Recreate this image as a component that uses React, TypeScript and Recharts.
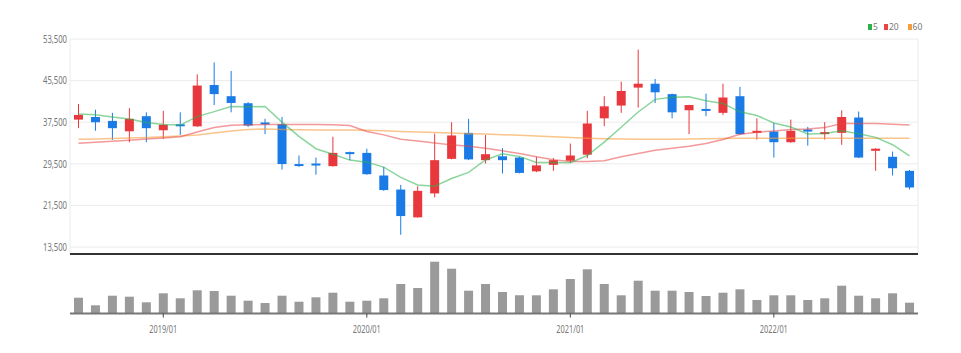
import { ComposedChart, Bar, Line, XAxis, YAxis, CartesianGrid } from 'recharts';

const dates = [
  '2018/08', '2018/09', '2018/10', '2018/11', '2018/12',
  '2019/01', '2019/02', '2019/03', '2019/04', '2019/05', '2019/06', '2019/07', '2019/08', '2019/09', '2019/10', '2019/11', '2019/12',
  '2020/01', '2020/02', '2020/03', '2020/04', '2020/05', '2020/06', '2020/07', '2020/08', '2020/09', '2020/10', '2020/11', '2020/12',
  '2021/01', '2021/02', '2021/03', '2021/04', '2021/05', '2021/06', '2021/07', '2021/08', '2021/09', '2021/10', '2021/11', '2021/12',
  '2022/01', '2022/02', '2022/03', '2022/04', '2022/05', '2022/06', '2022/07', '2022/08', '2022/09',
];

const opens = [
  38000, 38500, 37750, 35750, 38650, 35950, 37100, 36700, 44650, 42500,
  41150, 37450, 37100, 29450, 29550, 29050, 31750, 31600, 27250, 24550,
  19200, 23800, 30450, 35450, 30200, 30950, 30700, 28050, 29300, 30100,
  31250, 38250, 40700, 44150, 44900, 42900, 39800, 40050, 39300, 42500,
  35450, 35700, 33650, 36100, 35200, 35450, 38400, 32000, 30850, 28150,
];
const closes = [
  38900, 37500, 36350, 38150, 36350, 37000, 36850, 44550, 42900, 41200,
  36850, 37200, 29450, 29200, 29300, 31600, 31500, 27500, 24450, 19450,
  24300, 30200, 34950, 30350, 31350, 30200, 27750, 29200, 30200, 31100,
  37250, 40550, 43500, 44900, 43250, 39400, 40800, 39800, 42250, 35200,
  35850, 33650, 35850, 35700, 35600, 38500, 30700, 32400, 28650, 24950,
];
const highs = [
  41000, 39900, 39300, 40200, 39400, 39700, 39400, 46700, 49000, 47350,
  41350, 38150, 38500, 31100, 30700, 34700, 31850, 32400, 28900, 25450,
  25200, 35300, 37500, 38150, 35050, 32500, 30850, 30850, 30600, 33400,
  39700, 42500, 45300, 51450, 45800, 43000, 40850, 43000, 44900, 44300,
  38250, 37350, 38000, 36600, 37500, 39800, 39550, 32500, 31850, 28300,
];
const lows = [
  36350, 35850, 34100, 33650, 33650, 34300, 35050, 36600, 40800, 39400,
  36600, 35200, 28400, 28900, 27400, 28950, 30200, 27400, 24300, 15850,
  19150, 23050, 30350, 30200, 29550, 27650, 27650, 27900, 28150, 29700,
  30600, 36750, 39300, 40300, 41200, 38250, 35200, 38650, 38900, 35050,
  34150, 30700, 33550, 33000, 34150, 33150, 30600, 28150, 27250, 24550,
];

const ma5 = [
  39100, 38950, 38500, 38100, 37450, 37070, 36940, 38580, 39530, 40500,
  40470, 40540, 37520, 34780, 32400, 31350, 30210, 29820, 28870, 26900,
  25440, 25180, 26670, 27850, 30230, 31410, 30920, 29770, 29740, 29690,
  31100, 33660, 36520, 39460, 41890, 42320, 42370, 41630, 41100, 39490,
  38780, 37350, 36560, 35250, 35330, 35860, 35270, 34580, 33170, 31040,
];
const ma20 = [
  33470, 33650, 33850, 34050, 34250, 34450, 34700, 35600, 36470, 36900,
  37000, 37050, 37050, 37050, 37050, 37000, 36850, 35700, 35060, 34230,
  33900, 33520, 33140, 32890, 32500, 31990, 31470, 30840, 30260, 29940,
  29940, 30070, 30840, 31470, 32120, 32500, 32890, 33390, 34160, 35190,
  35580, 35830, 36080, 36210, 36460, 37230, 37230, 37230, 37100, 36980,
];
const ma60 = [
  34200, 34280, 34350, 34450, 34550, 34700, 34850, 35050, 35400, 35800,
  36100, 36200, 36100, 36050, 36000, 36000, 36000, 35950, 35850, 35700,
  35600, 35500, 35400, 35300, 35250, 35100, 35000, 34850, 34700, 34550,
  34400, 34300, 34250, 34200, 34200, 34200, 34250, 34300, 34350, 34400,
  34400, 34400, 34400, 34400, 34400, 34400, 34400, 34400, 34400, 34400,
];

const volumes = [
  1580000, 820000, 1780000, 1680000, 1120000, 2020000, 1520000, 2320000, 2250000, 1780000,
  1280000, 1050000, 1780000, 1180000, 1620000, 2080000, 1180000, 1280000, 1520000, 2950000,
  2550000, 5180000, 4480000, 2280000, 2950000, 2150000, 1820000, 1820000, 2420000, 3450000,
  4420000, 2950000, 1820000, 3280000, 2280000, 2280000, 2150000, 1750000, 2080000, 2420000,
  1350000, 1820000, 1820000, 1350000, 1520000, 2780000, 1780000, 1520000, 2020000, 1080000,
];

const priceTicks = [13500, 21500, 29500, 37500, 45500, 53500];
const yearTicks = ['2019/01', '2020/01', '2021/01', '2022/01'];

const UP = '#e8383d';
const DOWN = '#1a7be6';
const FONT = '"Noto Sans", sans-serif';

const rows = dates.map((date, i) => ({
  date,
  open: opens[i],
  close: closes[i],
  high: highs[i],
  low: lows[i],
  ma5: ma5[i],
  ma20: ma20[i],
  ma60: ma60[i],
  volume: volumes[i],
}));

function Candle(props: any) {
  const { x, y, width, height, payload } = props;
  const { open, close, high, low } = payload;
  const color = close >= open ? UP : DOWN;
  const span = high - low || 1;
  const py = (v: number) => y + ((high - v) / span) * height;
  const top = py(Math.max(open, close));
  const bottom = py(Math.min(open, close));
  const cx = x + width / 2;
  return (
    <g>
      <line x1={cx} x2={cx} y1={y} y2={y + height} stroke={color} strokeWidth={1} />
      <rect x={x} y={top} width={width} height={Math.max(bottom - top, 2)} fill={color} />
    </g>
  );
}

function PriceTick({ x, y, payload }: any) {
  const label = Number(payload.value).toLocaleString('en-US');
  return (
    <text x={x} y={y} dy="0.35em" textAnchor="end" fontSize={11} fill="#777" fontFamily={FONT}
      textLength={label.length * 4} lengthAdjust="spacingAndGlyphs">
      {label}
    </text>
  );
}

function DateTick({ x, y, payload }: any) {
  if (!yearTicks.includes(payload.value)) return <g />;
  return (
    <g>
      <line x1={x} x2={x} y1={y} y2={y + 4} stroke="#444" strokeWidth={1} />
      <text x={x} y={y + 19} textAnchor="middle" fontSize={10} fill="#777" fontFamily={FONT}
        textLength={28} lengthAdjust="spacingAndGlyphs">
        {payload.value}
      </text>
    </g>
  );
}

function MaLegend() {
  const items = [
    { label: '5', color: '#2bb24c', gap: 6 },
    { label: '20', color: '#e84545', gap: 9 },
    { label: '60', color: '#f59c3c', gap: 0 },
  ];
  return (
    <div style={{ position: 'absolute', left: 860, top: 14, display: 'flex', alignItems: 'center', fontFamily: FONT, fontSize: 8.5, color: '#777', lineHeight: '10px' }}>
      {items.map(it => (
        <span key={it.label} style={{ display: 'flex', alignItems: 'center', marginRight: it.gap }}>
          <span style={{ display: 'inline-block', width: 4, height: 6, background: it.color, marginRight: 1 }} />
          {it.label}
        </span>
      ))}
    </div>
  );
}

export default function App() {
  return (
    <div style={{ position: 'relative', width: 945, height: 345 }}>
      <MaLegend />
      <ComposedChart width={945} height={248} data={rows} margin={{ top: 31, right: 35, left: 0, bottom: 0 }}>
        <CartesianGrid stroke="#ececec" />
        <XAxis dataKey="date" ticks={yearTicks} interval={0} tick={false} tickLine={false} height={2}
          axisLine={{ stroke: '#333', strokeWidth: 2 }} />
        <YAxis width={62} domain={[12154, 53500]} ticks={priceTicks} interval={0} tick={<PriceTick />}
          tickLine={false} axisLine={false} tickSize={0} tickMargin={3} allowDataOverflow />
        <Line dataKey="ma60" stroke="#f59c3c" strokeOpacity={0.6} strokeWidth={1.5} dot={false} isAnimationActive={false} />
        <Line dataKey="ma20" stroke="#e84545" strokeOpacity={0.55} strokeWidth={1.5} dot={false} isAnimationActive={false} />
        <Line dataKey="ma5" stroke="#2bb24c" strokeOpacity={0.55} strokeWidth={1.5} dot={false} isAnimationActive={false} />
        <Bar dataKey={(d: any) => [d.low, d.high]} barSize={9} shape={<Candle />} isAnimationActive={false} />
      </ComposedChart>
      <ComposedChart width={945} height={97} data={rows} margin={{ top: 5, right: 35, left: 62, bottom: 9.5 }}>
        <XAxis dataKey="date" interval={0} tick={<DateTick />} tickLine={false} tickSize={0} tickMargin={0} height={30}
          axisLine={{ stroke: '#777', strokeWidth: 2 }} />
        <YAxis hide domain={[0, 5250000]} />
        <Bar dataKey="volume" barSize={9} fill="#9a9a9a" isAnimationActive={false} />
      </ComposedChart>
    </div>
  );
}
